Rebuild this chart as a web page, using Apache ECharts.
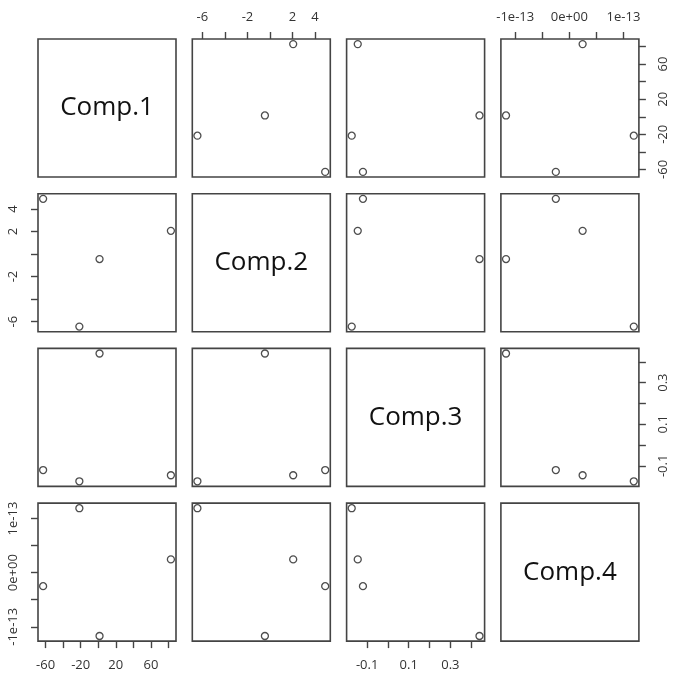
<!DOCTYPE html>
<html>
<head>
<meta charset="utf-8">
<script src="https://cdn.jsdelivr.net/npm/echarts@6/dist/echarts.min.js"></script>
<style>
  html, body { margin: 0; padding: 0; background: #fff; }
  #chart { width: 676px; height: 683px; }
</style>
</head>
<body>
<div id="chart"></div>
<script>
// ---- Data ----
const varNames = ["Comp.1", "Comp.2", "Comp.3", "Comp.4"];
const comp1 = [-62.8, -21.5, 1.5, 82.8];
const comp2 = [4.9, -6.44, -0.45, 2.06];
const comp3 = [-0.12, -0.174, 0.44, -0.145];
const comp4 = [-0.25e-13, 1.19e-13, -1.17e-13, 0.245e-13];

// ---- Tick values and tick labels ----
const comp1Ticks = [-60, -40, -20, 0, 20, 40, 60, 80];
const comp1LabelVals = [-60, -20, 20, 60];
const comp1LabelText = ["-60", "-20", "20", "60"];
const comp2Ticks = [-6, -4, -2, 0, 2, 4];
const comp2LabelVals = [-6, -2, 2, 4];
const comp2LabelText = ["-6", "-2", "2", "4"];
const comp3Ticks = [-0.1, 0, 0.1, 0.2, 0.3, 0.4];
const comp3LabelVals = [-0.1, 0.1, 0.3];
const comp3LabelText = ["-0.1", "0.1", "0.3"];
const comp4Ticks = [-1e-13, -5e-14, 0, 5e-14, 1e-13];
const comp4LabelVals = [-1e-13, 0, 1e-13];
const comp4LabelText = ["-1e-13", "0e+00", "1e-13"];

const vars = [comp1, comp2, comp3, comp4];
const ticks = [comp1Ticks, comp2Ticks, comp3Ticks, comp4Ticks];
const labelVals = [comp1LabelVals, comp2LabelVals, comp3LabelVals, comp4LabelVals];
const labelText = [comp1LabelText, comp2LabelText, comp3LabelText, comp4LabelText];

// R-style 4% range expansion
function rangeOf(arr) {
  const mn = Math.min.apply(null, arr), mx = Math.max.apply(null, arr);
  const pad = (mx - mn) * 0.04;
  return [mn - pad, mx + pad];
}
const ranges = vars.map(rangeOf);

function fmt(k) {
  return function (v) {
    const lv = labelVals[k];
    const span = ranges[k][1] - ranges[k][0];
    for (let i = 0; i < lv.length; i++) {
      if (Math.abs(lv[i] - v) < span * 1e-6) return labelText[k][i];
    }
    return '';
  };
}

const FONT = "'Open Sans', 'DejaVu Sans', sans-serif";
const INK = '#333';
const FRAME = '#444';

const grids = [], xAxes = [], yAxes = [], series = [], graphics = [];
const LEFT0 = 38, TOP0 = 39, STEPX = 154.3, STEPY = 154.7, SIZE = 138;

let g = 0;
for (let i = 0; i < 4; i++) {       // row -> y variable
  for (let j = 0; j < 4; j++) {     // col -> x variable
    const left = LEFT0 + j * STEPX, top = TOP0 + i * STEPY;
    grids.push({
      left: left, top: top, width: SIZE, height: SIZE,
      show: true, borderColor: FRAME, borderWidth: 1.6, backgroundColor: 'transparent'
    });
    const showX = (i === 0 && j % 2 === 1) || (i === 3 && j % 2 === 0);
    const showY = (j === 0 && i % 2 === 1) || (j === 3 && i % 2 === 0);
    xAxes.push({
      type: 'value', gridIndex: g,
      position: i === 0 ? 'top' : 'bottom',
      min: ranges[j][0], max: ranges[j][1],
      axisLine: { show: false, onZero: false },
      splitLine: { show: false },
      axisTick: { show: showX, length: 7, inside: false, customValues: ticks[j],
                  lineStyle: { color: FRAME, width: 1.4 } },
      axisLabel: { show: showX, customValues: labelVals[j], formatter: fmt(j),
                   fontSize: 13, fontFamily: FONT, color: INK,
                   margin: i === 0 ? 15 : 18, hideOverlap: false }
    });
    yAxes.push({
      type: 'value', gridIndex: g,
      position: j === 3 ? 'right' : 'left',
      min: ranges[i][0], max: ranges[i][1],
      axisLine: { show: false, onZero: false },
      splitLine: { show: false },
      axisTick: { show: showY, length: 7, inside: false, customValues: ticks[i],
                  lineStyle: { color: FRAME, width: 1.4 } },
      axisLabel: { show: showY, customValues: labelVals[i], formatter: fmt(i), rotate: 90,
                   fontSize: 13, fontFamily: FONT, color: INK, margin: 18, hideOverlap: false }
    });
    if (i === j) {
      graphics.push({
        type: 'text', x: left + SIZE / 2, y: top + SIZE / 2,
        style: { text: varNames[i], font: "26px " + FONT, fill: '#111',
                 textAlign: 'center', textVerticalAlign: 'middle' },
        silent: true
      });
    } else {
      const pts = vars[j].map((xv, k) => [xv, vars[i][k]]);
      series.push({
        type: 'scatter', xAxisIndex: g, yAxisIndex: g, data: pts,
        symbol: 'circle', symbolSize: 7,
        itemStyle: { color: 'rgba(0,0,0,0)', borderColor: '#222', borderWidth: 1.3 },
        emphasis: { disabled: true }, silent: true
      });
    }
    g++;
  }
}

const chart = echarts.init(document.getElementById('chart'), null, { renderer: 'canvas' });
chart.setOption({
  backgroundColor: '#fff',
  animation: false,
  grid: grids, xAxis: xAxes, yAxis: yAxes, series: series,
  graphic: graphics
});
</script>
</body>
</html>
